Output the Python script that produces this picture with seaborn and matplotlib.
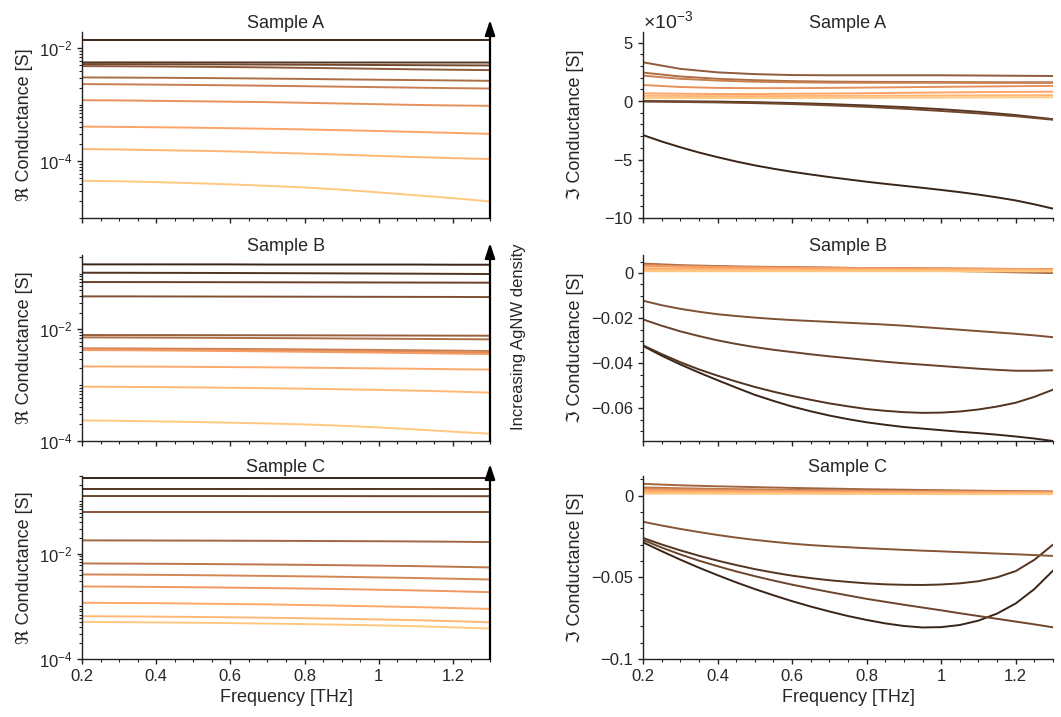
import numpy as np
import pandas as pd
import matplotlib
matplotlib.use('Agg')
import matplotlib.pyplot as plt
import seaborn as sns
from matplotlib import ticker

FREQ = [0.2, 0.3, 0.4, 0.5, 0.6, 0.7, 0.8, 0.9, 1.0, 1.1, 1.2, 1.3]
FREQ_FINE = [0.2, 0.25, 0.3, 0.35, 0.4, 0.45, 0.5, 0.55, 0.6, 0.65, 0.7, 0.75,
             0.8, 0.85, 0.9, 0.95, 1.0, 1.05, 1.1, 1.15, 1.2, 1.25, 1.3]

# real part of conductance [S], one row per AgNW density (densest first)
re_a = [
    [0.0140, 0.0140, 0.0140, 0.0140, 0.0140, 0.0140, 0.0140, 0.0140, 0.0140, 0.0140, 0.0140, 0.0140],
    [5.58e-3, 5.58e-3, 5.58e-3, 5.57e-3, 5.57e-3, 5.57e-3, 5.56e-3, 5.56e-3, 5.56e-3, 5.55e-3, 5.55e-3, 5.55e-3],
    [5.21e-3, 5.20e-3, 5.18e-3, 5.16e-3, 5.14e-3, 5.11e-3, 5.08e-3, 5.05e-3, 5.02e-3, 4.99e-3, 4.96e-3, 4.93e-3],
    [4.80e-3, 4.77e-3, 4.73e-3, 4.68e-3, 4.62e-3, 4.55e-3, 4.47e-3, 4.39e-3, 4.30e-3, 4.21e-3, 4.14e-3, 4.08e-3],
    [3.03e-3, 3.01e-3, 2.99e-3, 2.96e-3, 2.93e-3, 2.89e-3, 2.85e-3, 2.80e-3, 2.76e-3, 2.72e-3, 2.68e-3, 2.64e-3],
    [2.31e-3, 2.29e-3, 2.26e-3, 2.23e-3, 2.20e-3, 2.16e-3, 2.12e-3, 2.08e-3, 2.04e-3, 2.00e-3, 1.96e-3, 1.93e-3],
    [1.20e-3, 1.19e-3, 1.17e-3, 1.15e-3, 1.13e-3, 1.11e-3, 1.08e-3, 1.05e-3, 1.02e-3, 0.99e-3, 0.97e-3, 0.955e-3],
    [4.11e-4, 4.06e-4, 4.00e-4, 3.93e-4, 3.85e-4, 3.76e-4, 3.66e-4, 3.55e-4, 3.43e-4, 3.30e-4, 3.18e-4, 3.05e-4],
    [1.65e-4, 1.62e-4, 1.58e-4, 1.54e-4, 1.50e-4, 1.43e-4, 1.37e-4, 1.31e-4, 1.25e-4, 1.19e-4, 1.14e-4, 1.10e-4],
    [4.55e-5, 4.45e-5, 4.30e-5, 4.12e-5, 3.92e-5, 3.70e-5, 3.46e-5, 3.16e-5, 2.83e-5, 2.52e-5, 2.24e-5, 1.96e-5],
]
re_b = [
    [0.146, 0.146, 0.146, 0.146, 0.146, 0.145, 0.145, 0.145, 0.145, 0.145, 0.144, 0.144],
    [0.1035, 0.1033, 0.1030, 0.1027, 0.1023, 0.1018, 0.1013, 0.1007, 0.1001, 0.0995, 0.0988, 0.0980],
    [0.0705, 0.0704, 0.0703, 0.0702, 0.0700, 0.0698, 0.0696, 0.0694, 0.0692, 0.0690, 0.0688, 0.0686],
    [0.0390, 0.0390, 0.0389, 0.0388, 0.0387, 0.0386, 0.0385, 0.0384, 0.0383, 0.0382, 0.0381, 0.0379],
    [7.92e-3, 7.91e-3, 7.90e-3, 7.88e-3, 7.86e-3, 7.84e-3, 7.82e-3, 7.80e-3, 7.78e-3, 7.75e-3, 7.72e-3, 7.70e-3],
    [7.19e-3, 7.16e-3, 7.12e-3, 7.08e-3, 7.03e-3, 6.98e-3, 6.93e-3, 6.87e-3, 6.81e-3, 6.75e-3, 6.68e-3, 6.62e-3],
    [4.57e-3, 4.55e-3, 4.52e-3, 4.49e-3, 4.46e-3, 4.42e-3, 4.38e-3, 4.33e-3, 4.28e-3, 4.22e-3, 4.16e-3, 4.09e-3],
    [4.45e-3, 4.42e-3, 4.38e-3, 4.34e-3, 4.29e-3, 4.24e-3, 4.18e-3, 4.12e-3, 4.05e-3, 3.98e-3, 3.90e-3, 3.82e-3],
    [4.26e-3, 4.23e-3, 4.19e-3, 4.14e-3, 4.09e-3, 4.03e-3, 3.97e-3, 3.90e-3, 3.83e-3, 3.76e-3, 3.68e-3, 3.61e-3],
    [2.17e-3, 2.16e-3, 2.15e-3, 2.13e-3, 2.11e-3, 2.09e-3, 2.06e-3, 2.03e-3, 2.00e-3, 1.97e-3, 1.93e-3, 1.90e-3],
    [9.40e-4, 9.33e-4, 9.24e-4, 9.13e-4, 8.99e-4, 8.83e-4, 8.65e-4, 8.45e-4, 8.23e-4, 7.99e-4, 7.70e-4, 7.34e-4],
    [2.34e-4, 2.30e-4, 2.25e-4, 2.19e-4, 2.13e-4, 2.06e-4, 1.98e-4, 1.88e-4, 1.75e-4, 1.61e-4, 1.47e-4, 1.35e-4],
]
re_c = [
    [0.272, 0.272, 0.272, 0.272, 0.272, 0.272, 0.272, 0.272, 0.272, 0.272, 0.272, 0.272],
    [0.171, 0.171, 0.171, 0.171, 0.171, 0.171, 0.171, 0.171, 0.171, 0.171, 0.171, 0.171],
    [0.1250, 0.1250, 0.1250, 0.1250, 0.1248, 0.1246, 0.1245, 0.1244, 0.1242, 0.1241, 0.1240, 0.1238],
    [0.0622, 0.0622, 0.0622, 0.0622, 0.0622, 0.0622, 0.0622, 0.0622, 0.0622, 0.0622, 0.0622, 0.0622],
    [0.01795, 0.0179, 0.01784, 0.01777, 0.01769, 0.0176, 0.0175, 0.01739, 0.01727, 0.01712, 0.01692, 0.01667],
    [6.54e-3, 6.50e-3, 6.45e-3, 6.39e-3, 6.32e-3, 6.24e-3, 6.15e-3, 6.05e-3, 5.94e-3, 5.82e-3, 5.66e-3, 5.49e-3],
    [4.04e-3, 4.01e-3, 3.97e-3, 3.92e-3, 3.86e-3, 3.79e-3, 3.72e-3, 3.64e-3, 3.55e-3, 3.46e-3, 3.35e-3, 3.24e-3],
    [2.39e-3, 2.37e-3, 2.34e-3, 2.31e-3, 2.27e-3, 2.23e-3, 2.18e-3, 2.13e-3, 2.07e-3, 2.01e-3, 1.94e-3, 1.86e-3],
    [1.17e-3, 1.16e-3, 1.15e-3, 1.13e-3, 1.11e-3, 1.09e-3, 1.06e-3, 1.03e-3, 1.00e-3, 0.97e-3, 0.93e-3, 0.896e-3],
    [6.50e-4, 6.45e-4, 6.38e-4, 6.30e-4, 6.20e-4, 6.08e-4, 5.95e-4, 5.80e-4, 5.64e-4, 5.46e-4, 5.24e-4, 4.99e-4],
    [5.07e-4, 5.02e-4, 4.96e-4, 4.89e-4, 4.81e-4, 4.71e-4, 4.60e-4, 4.48e-4, 4.35e-4, 4.20e-4, 4.00e-4, 3.79e-4],
]

# imaginary part of conductance; sample A in mS, B and C in S
# *_bent: densest curves on FREQ_FINE, *_flat: the rest on FREQ
im_a_bent_ms = [
    [-2.91, -3.46, -3.95, -4.40, -4.80, -5.17, -5.50, -5.79, -6.05, -6.28, -6.50, -6.70,
     -6.90, -7.08, -7.25, -7.42, -7.60, -7.79, -8.00, -8.24, -8.50, -8.83, -9.20],
]
im_a_flat_ms = [
    [0.00, -0.02, -0.05, -0.10, -0.17, -0.26, -0.38, -0.52, -0.70, -0.92, -1.20, -1.55],
    [-0.05, -0.08, -0.12, -0.18, -0.26, -0.37, -0.50, -0.66, -0.85, -1.06, -1.30, -1.60],
    [3.31, 2.75, 2.45, 2.30, 2.22, 2.20, 2.20, 2.20, 2.20, 2.18, 2.16, 2.14],
    [2.43, 2.10, 1.90, 1.78, 1.70, 1.66, 1.64, 1.63, 1.62, 1.61, 1.60, 1.60],
    [2.17, 1.90, 1.75, 1.65, 1.60, 1.57, 1.56, 1.56, 1.56, 1.55, 1.55, 1.55],
    [1.37, 1.20, 1.12, 1.10, 1.10, 1.12, 1.15, 1.18, 1.21, 1.24, 1.27, 1.29],
    [0.66, 0.62, 0.60, 0.60, 0.62, 0.64, 0.67, 0.70, 0.73, 0.76, 0.78, 0.80],
    [0.45, 0.43, 0.42, 0.42, 0.43, 0.44, 0.45, 0.46, 0.47, 0.48, 0.49, 0.50],
    [0.25, 0.25, 0.25, 0.26, 0.26, 0.27, 0.28, 0.29, 0.30, 0.31, 0.32, 0.32],
]
im_b_bent = [
    [-0.0323, -0.0366, -0.0405, -0.0441, -0.0475, -0.0508, -0.0540, -0.0567, -0.0592, -0.0613, -0.0632, -0.0648,
     -0.0662, -0.0673, -0.0683, -0.0690, -0.0697, -0.0704, -0.0710, -0.0717, -0.0725, -0.0734, -0.0745],
    [-0.0320, -0.0359, -0.0395, -0.0427, -0.0455, -0.0481, -0.0505, -0.0526, -0.0545, -0.0562, -0.0578, -0.0591,
     -0.0603, -0.0611, -0.0617, -0.0620, -0.0619, -0.0614, -0.0605, -0.0592, -0.0575, -0.0549, -0.0517],
    [-0.0205, -0.0233, -0.0258, -0.0279, -0.0298, -0.0314, -0.0328, -0.0340, -0.0350, -0.0360, -0.0369, -0.0377,
     -0.0385, -0.0393, -0.0400, -0.0406, -0.0412, -0.0418, -0.0424, -0.0429, -0.0433, -0.0433, -0.0431],
    [-0.0122, -0.0142, -0.0158, -0.0171, -0.0182, -0.0190, -0.0197, -0.0203, -0.0208, -0.0212, -0.0216, -0.0220,
     -0.0224, -0.0228, -0.0233, -0.0239, -0.0245, -0.0251, -0.0257, -0.0263, -0.0269, -0.0276, -0.0284],
]
im_b_flat = [
    [0.0040, 0.0033, 0.0029, 0.0026, 0.0023, 0.0020, 0.0017, 0.0014, 0.0011, 0.0008, 0.0004, 0.0001],
    [0.0043, 0.0036, 0.0032, 0.0029, 0.0027, 0.0025, 0.0023, 0.0021, 0.0019, 0.0017, 0.0015, 0.0013],
    [0.0037, 0.0032, 0.0029, 0.0027, 0.0026, 0.0024, 0.0023, 0.0022, 0.0021, 0.0020, 0.0019, 0.0018],
    [0.0035, 0.0031, 0.0028, 0.0026, 0.0025, 0.0024, 0.0023, 0.0022, 0.0021, 0.0020, 0.0019, 0.0018],
    [0.0033, 0.0029, 0.0027, 0.0025, 0.0024, 0.0023, 0.0022, 0.0021, 0.0020, 0.0019, 0.0018, 0.0017],
    [0.0022, 0.0021, 0.0020, 0.0019, 0.0019, 0.0018, 0.0018, 0.0017, 0.0017, 0.0016, 0.0016, 0.0015],
    [0.0015, 0.0015, 0.0015, 0.0014, 0.0014, 0.0014, 0.0014, 0.0013, 0.0013, 0.0013, 0.0013, 0.0012],
    [0.0009, 0.0009, 0.0009, 0.0009, 0.0009, 0.0009, 0.0009, 0.0009, 0.0009, 0.0008, 0.0008, 0.0008],
]
im_c_bent = [
    [-0.0286, -0.0340, -0.0392, -0.0441, -0.0487, -0.0531, -0.0572, -0.0610, -0.0646, -0.0679, -0.0709, -0.0737,
     -0.0761, -0.0782, -0.0798, -0.0807, -0.0805, -0.0792, -0.0765, -0.0722, -0.0660, -0.0572, -0.0459],
    [-0.0259, -0.0299, -0.0335, -0.0368, -0.0398, -0.0425, -0.0450, -0.0471, -0.0490, -0.0505, -0.0518, -0.0528,
     -0.0537, -0.0543, -0.0546, -0.0547, -0.0544, -0.0537, -0.0524, -0.0500, -0.0462, -0.0393, -0.0300],
    [-0.0271, -0.0318, -0.0360, -0.0398, -0.0432, -0.0464, -0.0493, -0.0520, -0.0545, -0.0568, -0.0590, -0.0611,
     -0.0632, -0.0650, -0.0668, -0.0685, -0.0702, -0.0720, -0.0737, -0.0754, -0.0771, -0.0788, -0.0806],
    [-0.0160, -0.0183, -0.0204, -0.0223, -0.0241, -0.0257, -0.0271, -0.0283, -0.0294, -0.0303, -0.0310, -0.0316,
     -0.0322, -0.0327, -0.0332, -0.0337, -0.0341, -0.0346, -0.0350, -0.0355, -0.0359, -0.0364, -0.0369],
]
im_c_flat = [
    [0.0072, 0.0063, 0.0057, 0.0052, 0.0047, 0.0043, 0.0039, 0.0036, 0.0033, 0.0030, 0.0027, 0.0024],
    [0.0050, 0.0045, 0.0041, 0.0038, 0.0035, 0.0033, 0.0031, 0.0029, 0.0028, 0.0027, 0.0026, 0.0025],
    [0.0042, 0.0038, 0.0035, 0.0033, 0.0031, 0.0029, 0.0028, 0.0027, 0.0026, 0.0025, 0.0024, 0.0023],
    [0.0035, 0.0032, 0.0030, 0.0028, 0.0027, 0.0026, 0.0025, 0.0024, 0.0023, 0.0022, 0.0021, 0.0020],
    [0.0028, 0.0026, 0.0025, 0.0024, 0.0023, 0.0022, 0.0021, 0.0020, 0.0019, 0.0018, 0.0018, 0.0017],
    [0.0018, 0.0017, 0.0017, 0.0016, 0.0016, 0.0015, 0.0015, 0.0014, 0.0014, 0.0013, 0.0013, 0.0012],
    [0.0012, 0.0012, 0.0011, 0.0011, 0.0011, 0.0010, 0.0010, 0.0010, 0.0009, 0.0009, 0.0009, 0.0009],
]

SAMPLES = ['Sample A', 'Sample B', 'Sample C']
RE_LIMS = [(1e-5, 0.0192), (1e-4, 0.215), (1e-4, 0.30)]
IM_LIMS = [(-0.010, 0.0059), (-0.0745, 0.0081), (-0.1, 0.012)]
IM_STEPS = [(0.005, 0.001), (0.02, 0.005), (0.05, 0.01)]


def to_frame(rows, freq, scale=1.0, start=0):
    recs = []
    for i, row in enumerate(rows):
        for f, v in zip(freq, row):
            recs.append(('L%02d' % (start + i + 1), f, v * scale))
    return pd.DataFrame(recs, columns=['line', 'freq', 'value'])


def imag_frame(bent, flat, scale=1.0):
    return pd.concat([to_frame(bent, FREQ_FINE, scale),
                      to_frame(flat, FREQ, scale, start=len(bent))], ignore_index=True)


def density_palette(n):
    # densest sample = darkest copper
    cmap = plt.get_cmap('copper')
    return [cmap(v) for v in np.linspace(0.18, 1.0, n)]


def plain_fmt(v, pos):
    if abs(v) < 1e-12:
        return '0'
    return ('%g' % round(v, 6)).replace('-', '\u2212')


sns.set_style('ticks')
plt.rcParams['font.family'] = ['Liberation Sans', 'DejaVu Sans']
plt.rcParams['mathtext.fontset'] = 'custom'
plt.rcParams['mathtext.rm'] = 'Liberation Sans'
plt.rcParams['mathtext.it'] = 'Liberation Sans:italic'
plt.rcParams['axes.edgecolor'] = '#222222'
plt.rcParams['axes.linewidth'] = 1.0

W, H = 1061, 717
fig = plt.figure(figsize=(W / 100, H / 100), dpi=100)

tops = [32, 255, 476]
bots = [218, 441, 659]


def add_ax(x0, x1, top, bot):
    return fig.add_axes([x0 / W, 1 - bot / H, (x1 - x0) / W, (bot - top) / H])


re_data = [to_frame(re_a, FREQ), to_frame(re_b, FREQ), to_frame(re_c, FREQ)]
im_data = [imag_frame(im_a_bent_ms, im_a_flat_ms, 1e-3),
           imag_frame(im_b_bent, im_b_flat),
           imag_frame(im_c_bent, im_c_flat)]

for r in range(3):
    n = re_data[r]['line'].nunique()
    pal = density_palette(n)
    order = ['L%02d' % (i + 1) for i in range(n)]

    # left column: real part, log scale
    ax = add_ax(82, 490, tops[r], bots[r])
    sns.lineplot(data=re_data[r], x='freq', y='value', hue='line', hue_order=order,
                 palette=pal, legend=False, ax=ax, linewidth=1.4, estimator=None)
    ax.set_yscale('log')
    ax.set_ylim(*RE_LIMS[r])
    ax.yaxis.set_major_locator(ticker.LogLocator(base=100))
    ax.yaxis.set_major_formatter(ticker.LogFormatterMathtext(base=10))
    ax.yaxis.set_minor_locator(ticker.LogLocator(base=10, subs=np.arange(1, 10), numticks=50))
    ax.yaxis.set_minor_formatter(ticker.NullFormatter())
    ax.set_ylabel('\u211c Conductance [S]', fontsize=13)
    ax.spines[['top', 'right']].set_visible(False)
    ax.annotate('', xy=(1, 1 + 12 / (bots[r] - tops[r])), xytext=(1, 0),
                xycoords='axes fraction', annotation_clip=False,
                arrowprops=dict(arrowstyle='-|>,head_length=0.45,head_width=0.15',
                                color='black', lw=1.6, mutation_scale=20,
                                shrinkA=0, shrinkB=0))
    left_ax = ax

    # right column: imaginary part, linear scale
    ax = add_ax(643, 1053, tops[r], bots[r])
    sns.lineplot(data=im_data[r], x='freq', y='value', hue='line', hue_order=order,
                 palette=pal, legend=False, ax=ax, linewidth=1.4, estimator=None)
    ax.set_ylim(*IM_LIMS[r])
    major, minor = IM_STEPS[r]
    ax.yaxis.set_major_locator(ticker.MultipleLocator(major))
    ax.yaxis.set_minor_locator(ticker.MultipleLocator(minor))
    if r == 0:
        ax.ticklabel_format(axis='y', style='sci', scilimits=(-3, -3), useMathText=True)
    else:
        ax.yaxis.set_major_formatter(ticker.FuncFormatter(plain_fmt))
    ax.set_ylabel('\u2111 Conductance [S]', fontsize=13)
    ax.yaxis.set_label_coords(-0.145, 0.5)
    ax.spines[['top', 'right']].set_visible(False)

    for a in (left_ax, ax):
        a.set_xlim(0.2, 1.3)
        a.xaxis.set_major_locator(ticker.MultipleLocator(0.2))
        a.xaxis.set_minor_locator(ticker.MultipleLocator(0.05))
        a.xaxis.set_major_formatter(ticker.FuncFormatter(plain_fmt))
        a.tick_params(which='major', length=3.5, width=1, direction='out',
                      labelsize=12, color='#222222')
        a.tick_params(which='minor', length=2, width=0.8, direction='out', color='#222222')
        a.set_title(SAMPLES[r], fontsize=13, pad=3)
        if r < 2:
            a.tick_params(labelbottom=False)
            a.set_xlabel('')
        else:
            a.set_xlabel('Frequency [THz]', fontsize=13)
    if r == 0:
        ax.yaxis.get_offset_text().set_fontsize(14)

fig.text(519 / W, 1 - 337 / H, 'Increasing AgNW density', rotation=90,
         ha='center', va='center', fontsize=12)

fig.savefig('out.png', dpi=100)
